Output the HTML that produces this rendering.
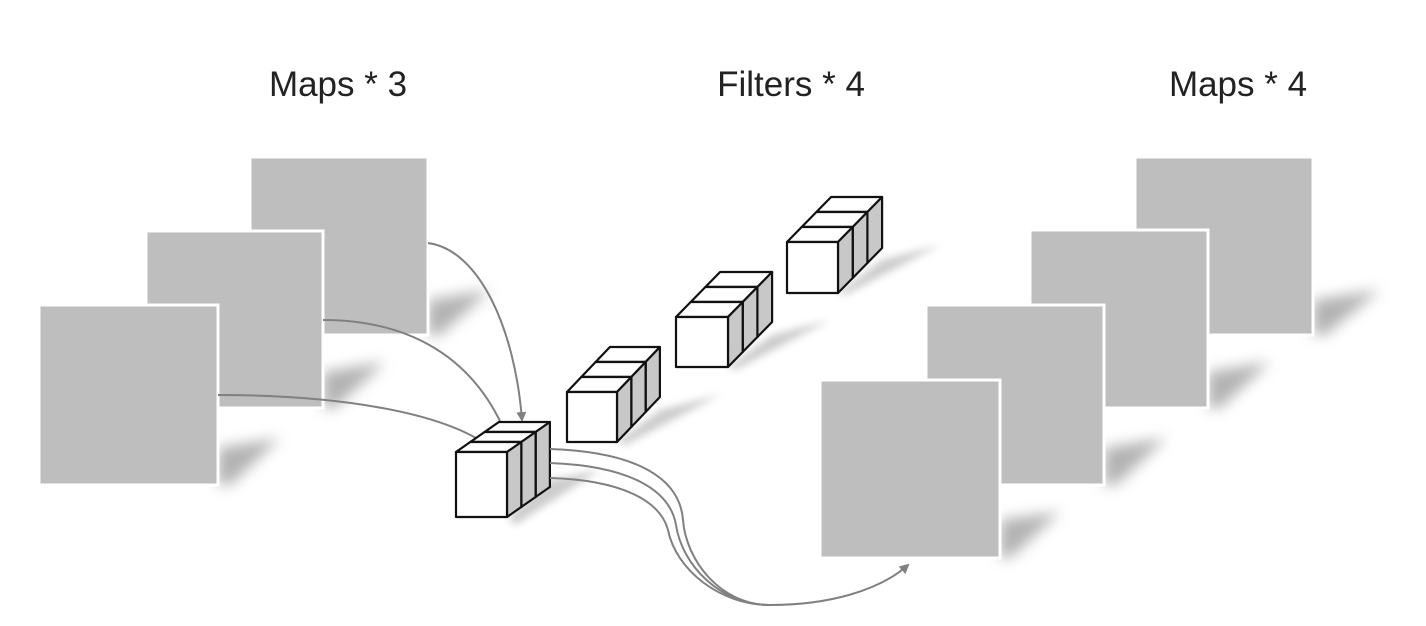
<!DOCTYPE html>
<html><head><meta charset="utf-8"><style>
html,body{margin:0;padding:0;background:#fff;}
svg{display:block}
text{font-family:"Liberation Sans",sans-serif;font-size:35px;fill:#222}
</style></head><body>
<svg width="1426" height="626" viewBox="0 0 1426 626" xmlns="http://www.w3.org/2000/svg">
<defs>
<filter id="b" x="-50%" y="-50%" width="200%" height="200%"><feGaussianBlur stdDeviation="7"/></filter>
<filter id="b2" x="-50%" y="-50%" width="200%" height="200%"><feGaussianBlur stdDeviation="4"/></filter>
<marker id="ah" markerWidth="10" markerHeight="10" refX="8" refY="5" orient="auto" markerUnits="userSpaceOnUse"><path d="M0,0 L10,5 L0,10 z" fill="#808080"/></marker>
</defs>
<text x="338" y="96" text-anchor="middle">Maps * 3</text>
<text x="791" y="96" text-anchor="middle">Filters * 4</text>
<text x="1238" y="96" text-anchor="middle">Maps * 4</text>

<!-- shadows -->
<g fill="#999" opacity="0.75" filter="url(#b)">
<polygon points="428,300 490,290 440,335 428,335"/>
<polygon points="323,372 385,362 335,408 323,408"/>
<polygon points="218,448 280,438 230,485 218,485"/>
<polygon points="1313,300 1380,290 1325,335 1313,335"/>
<polygon points="1208,372 1270,362 1220,408 1208,408"/>
<polygon points="1104,448 1166,438 1116,485 1104,485"/>
<polygon points="1000,520 1060,512 1010,558 1000,558"/>
</g>

<!-- left maps -->
<g fill="#bebebe" stroke="#fff" stroke-width="3">
<rect x="250" y="157" width="178" height="178"/>
<rect x="146" y="231" width="177" height="177"/>
<rect x="39" y="305" width="179" height="180"/>
</g>
<!-- right maps -->
<g fill="#bebebe" stroke="#fff" stroke-width="3">
<rect x="1135" y="157" width="178" height="178"/>
<rect x="1030" y="230" width="178" height="178"/>
<rect x="926" y="305" width="178" height="180"/>
<rect x="820" y="380" width="180" height="178"/>
</g>

<!-- cube shadows -->
<g fill="#aaa" opacity="0.6" filter="url(#b2)">
<polygon points="550,480 600,470 515,525 508,517"/>
<polygon points="660,410 720,395 625,445 617,442"/>
<polygon points="772,335 830,320 735,370 728,367"/>
<polygon points="882,260 940,245 845,295 838,293"/>
</g>

<!-- incoming arrows -->
<g fill="none" stroke="#808080" stroke-width="2">
<path d="M428,243 C480,250 515,330 522,420" marker-end="url(#ah)"/>
<path d="M323,320 C400,320 470,350 505,432" marker-end="url(#ah)"/>
<path d="M218,395 C330,395 440,410 490,447" marker-end="url(#ah)"/>
</g>

<g id="cubes" stroke="#111" stroke-width="2.2" stroke-linejoin="round"></g>

<!-- outgoing arrows -->
<g fill="none" stroke="#808080" stroke-width="2">
<path d="M550,449 C640,452 680,480 683,520 C686,560 720,605 770,605"/>
<path d="M550,463 C630,466 670,490 676,525 C682,565 720,605 770,605"/>
<path d="M550,478 C620,480 660,500 668,530 C676,570 720,605 770,605"/>
<path d="M770,605 C830,605 880,590 908,565" marker-end="url(#ah)"/>
</g>
</svg>
<script>
(function(){
var g=document.getElementById('cubes');var ns='http://www.w3.org/2000/svg';
function poly(pts,fill){var p=document.createElementNS(ns,'polygon');p.setAttribute('points',pts.map(function(a){return a.join(',')}).join(' '));p.setAttribute('fill',fill);g.appendChild(p);}
function stack(x,y,w,h,dx,dy){
 // draw from back slice to front
 for(var i=2;i>=0;i--){
  var ox=x+i*dx, oy=y+i*dy;
  // top
  poly([[ox,oy],[ox+w,oy],[ox+w+dx,oy+dy],[ox+dx,oy+dy]],'#fff');
  // right
  poly([[ox+w,oy],[ox+w+dx,oy+dy],[ox+w+dx,oy+h+dy],[ox+w,oy+h]],'#c8c8c8');
  // front
  poly([[ox,oy],[ox+w,oy],[ox+w,oy+h],[ox,oy+h]],'#fff');
 }
}
stack(456,452,51,65,14.3,-10);
stack(567,392,50,50,14.3,-15);
stack(676,317,52,50,14.7,-15);
stack(787,242,51,51,14.7,-15);
})();
</script>
</body></html>
